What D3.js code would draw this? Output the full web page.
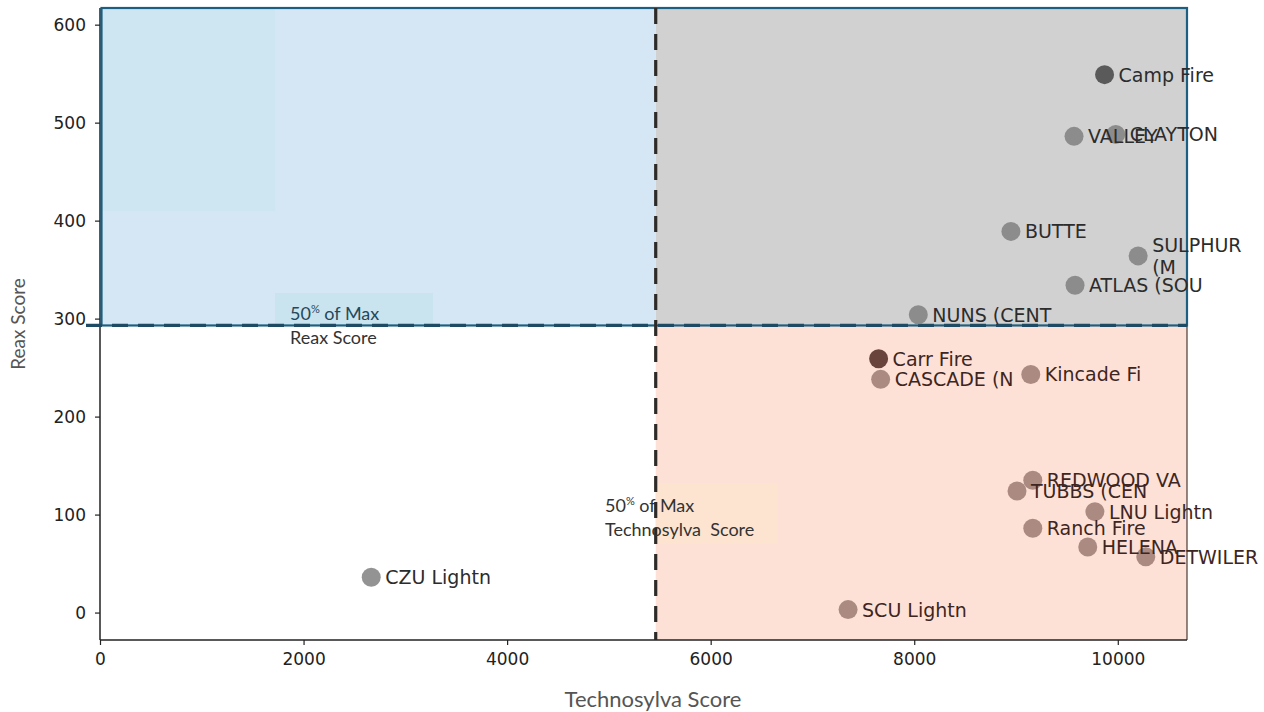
<!DOCTYPE html>
<html>
<head>
<meta charset="utf-8">
<script src="https://cdn.jsdelivr.net/npm/d3@7"></script>
<style>
  html, body { margin: 0; padding: 0; background: #fff; }
  svg { display: block; }
</style>
</head>
<body>
<svg id="chart" width="1264" height="712"></svg>
<script>
// ---------------- DATA ----------------
const fireNames = [
  "Camp Fire", "VALLEY", "CLAYTON", "BUTTE", "SULPHUR (M", "ATLAS (SOU", "NUNS (CENT",
  "Carr Fire", "CASCADE (N", "Kincade Fi", "REDWOOD VA", "TUBBS (CEN", "LNU Lightn",
  "Ranch Fire", "HELENA", "DETWILER", "SCU Lightn", "CZU Lightn"
];
const technosylvaScores = [
  9870, 9570, 9980, 8950, 10200, 9580, 8040,
  7650, 7670, 9145, 9165, 9010, 9775,
  9165, 9705, 10275, 7350, 2665
];
const reaxScores = [
  549, 486, 488, 389, 364, 334, 304,
  259, 238, 243, 135, 124, 103,
  86, 67, 57, 3, 36
];
const xTicks = [0, 2000, 4000, 6000, 8000, 10000];
const yTicks = [0, 100, 200, 300, 400, 500, 600];
const xDomain = [0, 10680];
const yDomain = [-28, 617];
const technosylvaThreshold = 5460;   // 50% of max Technosylva score (as drawn)
const reaxThreshold = 293;           // 50% of max Reax score (as drawn)
const xTitle = "Technosylva Score";
const yTitle = "Reax Score";

// ---------------- LAYOUT / STYLE ----------------
const svg = d3.select("#chart");
const pLeft = 100, pRight = 1187, pTop = 8, pBottom = 640;
const x = d3.scaleLinear().domain(xDomain).range([pLeft, pRight]);
const y = d3.scaleLinear().domain(yDomain).range([pBottom, pTop]);
const tickFont = "'DejaVu Sans', sans-serif";
const noteFont = "Lato, 'Open Sans', sans-serif";

const xT = x(technosylvaThreshold), yT = y(reaxThreshold);

// quadrant backgrounds
svg.append("rect").attr("x", pLeft).attr("y", pTop).attr("width", xT - pLeft).attr("height", yT - pTop)
  .attr("fill", "#d5e7f4");
svg.append("rect").attr("x", pLeft).attr("y", pTop).attr("width", 275 - pLeft).attr("height", 211 - pTop)
  .attr("fill", "#cde6f1");
svg.append("rect").attr("x", xT).attr("y", pTop).attr("width", pRight - xT).attr("height", yT - pTop)
  .attr("fill", "#d1d1d1");
svg.append("rect").attr("x", xT).attr("y", yT).attr("width", pRight - xT).attr("height", pBottom - yT)
  .attr("fill", "#fde1d7");

// annotation boxes
svg.append("rect").attr("x", 275).attr("y", 293).attr("width", 158).attr("height", yT - 293)
  .attr("fill", "#c9e4ee");
svg.append("rect").attr("x", xT).attr("y", 483).attr("width", 122).attr("height", 61)
  .attr("fill", "#fde4d0");

// frame
svg.append("line").attr("x1", pRight).attr("x2", pRight).attr("y1", yT).attr("y2", pBottom)
  .attr("stroke", "#4a3a36").attr("stroke-width", 1.2);

// axes
const xAxis = d3.axisBottom(x).tickValues(xTicks).tickFormat(d3.format("d")).tickSize(5).tickPadding(8);
const yAxis = d3.axisLeft(y).tickValues(yTicks).tickFormat(d3.format("d")).tickSize(5).tickPadding(9);
const gx = svg.append("g").attr("transform", `translate(0,${pBottom})`).call(xAxis);
const gy = svg.append("g").attr("transform", `translate(${pLeft},0)`).call(yAxis);
gx.select(".domain").attr("d", `M${pLeft},0H${pRight}`).attr("stroke", "#222").attr("stroke-width", 1.5);
gy.select(".domain").attr("d", `M0,${pBottom}V${pTop}`).attr("stroke", "#222").attr("stroke-width", 1.5);
[gx, gy].forEach(g => {
  g.selectAll(".tick line").attr("stroke", "#222").attr("stroke-width", 1.2);
  g.selectAll(".tick text").attr("fill", "#222").style("font-family", tickFont).style("font-size", "17px");
});

// blue border around the upper half
svg.append("rect").attr("x", pLeft + 1.5).attr("y", pTop).attr("width", pRight - pLeft - 1.5).attr("height", yT - pTop)
  .attr("fill", "none").attr("stroke", "#1d5f80").attr("stroke-width", 2.2);

// threshold lines
svg.append("line").attr("x1", pLeft - 14).attr("x2", pRight).attr("y1", yT).attr("y2", yT)
  .attr("stroke", "#1f4a64").attr("stroke-width", 3.2).attr("stroke-dasharray", "16,10");
svg.append("line").attr("x1", xT).attr("x2", xT).attr("y1", pTop).attr("y2", pBottom)
  .attr("stroke", "#2e2a28").attr("stroke-width", 3.2).attr("stroke-dasharray", "16,10");

// points
const points = fireNames.map((n, i) => ({ name: n, tx: technosylvaScores[i], rx: reaxScores[i] }));
const darkNames = new Set(["Camp Fire", "Carr Fire"]);
function dotColor(d) {
  const upper = d.rx >= reaxThreshold, rightSide = d.tx >= technosylvaThreshold;
  if (darkNames.has(d.name)) return upper ? "#4f4f4f" : "#5b3630";
  if (!rightSide) return "#8a8a8a";
  return upper ? "#868686" : "#a4827a";
}
function textColor(d) {
  const upper = d.rx >= reaxThreshold, rightSide = d.tx >= technosylvaThreshold;
  if (rightSide && !upper) return "#3d2622";
  return "#2c2c2c";
}
svg.append("g").selectAll("circle").data(points).join("circle")
  .attr("cx", d => x(d.tx)).attr("cy", d => y(d.rx)).attr("r", 9.5)
  .attr("fill", dotColor).attr("fill-opacity", 0.92);

const labels = svg.append("g").selectAll("text").data(points).join("text")
  .attr("x", d => x(d.tx) + 14).attr("y", d => y(d.rx))
  .attr("dominant-baseline", "central")
  .attr("fill", textColor)
  .style("font-family", tickFont).style("font-size", "19px");
labels.each(function(d) {
  const t = d3.select(this);
  if (d.name === "SULPHUR (M") {
    t.append("tspan").attr("x", x(d.tx) + 14).attr("dy", "-0.6em").text("SULPHUR");
    t.append("tspan").attr("x", x(d.tx) + 14).attr("dy", "1.2em").text("(M");
  } else {
    t.text(d.name);
  }
});

// annotations
function note(xp, yp, color, line2) {
  const t = svg.append("text").attr("x", xp).attr("y", yp).attr("fill", color)
    .style("font-family", noteFont).style("font-size", "18px");
  t.append("tspan").text("50");
  t.append("tspan").attr("dy", "-7").style("font-size", "11px").text("%");
  t.append("tspan").attr("dy", "7").text(" of Max");
  svg.append("text").attr("x", xp).attr("y", yp + 24).attr("fill", "#333")
    .style("font-family", noteFont).style("font-size", "18px").style("white-space", "pre").text(line2);
}
note(290, 320, "#25485a", "Reax Score");
note(605, 512, "#333", "Technosylva  Score");

// axis titles
svg.append("text").attr("x", 653).attr("y", 707).attr("text-anchor", "middle")
  .attr("fill", "#555").style("font-family", noteFont).style("font-size", "22px").text(xTitle);
svg.append("text").attr("transform", `translate(25,${(pTop + pBottom) / 2}) rotate(-90)`)
  .attr("text-anchor", "middle").attr("fill", "#555")
  .style("font-family", noteFont).style("font-size", "19px").text(yTitle);
</script>
</body>
</html>
